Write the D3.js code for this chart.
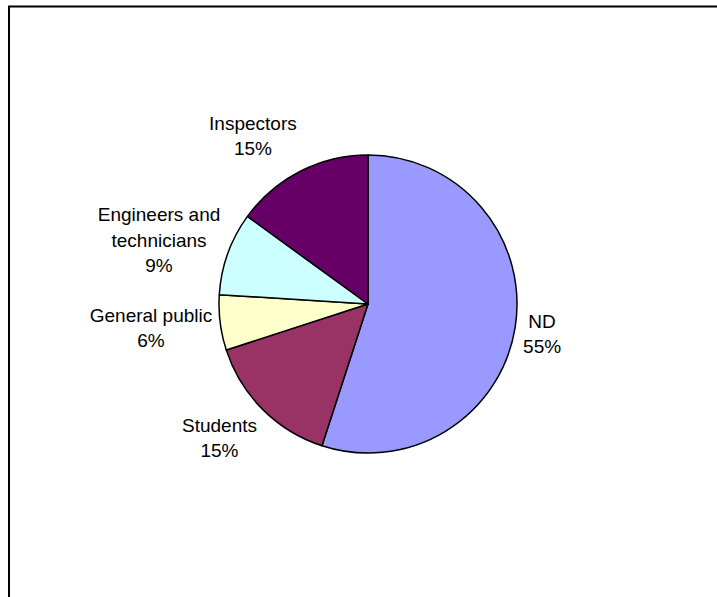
<!DOCTYPE html>
<html>
<head>
<meta charset="utf-8">
<script src="https://cdn.jsdelivr.net/npm/d3@7"></script>
<style>
  html, body { margin: 0; padding: 0; background: #fff; }
  svg { display: block; }
</style>
</head>
<body>
<svg id="chart" width="717" height="597"></svg>
<script>
const categories = ["ND", "Students", "General public", "Engineers and technicians", "Inspectors"];
const labelLines = [["ND"], ["Students"], ["General public"], ["Engineers and", "technicians"], ["Inspectors"]];
const values = [55, 15, 6, 9, 15];
const percentLabels = ["55%", "15%", "6%", "9%", "15%"];
const colors = ["#9999FF", "#993366", "#FFFFCC", "#CCFFFF", "#660066"];

const svg = d3.select("#chart");
const W = 717, H = 597;

// outer frame
svg.append("rect")
  .attr("x", 9).attr("y", 6.5)
  .attr("width", W + 20).attr("height", H + 20)
  .attr("fill", "#fff").attr("stroke", "#000").attr("stroke-width", 2);

const cx = 368, cy = 304, r = 149;
const pie = d3.pie().sort(null).value(d => d).startAngle(0).endAngle(2 * Math.PI);
const arcs = pie(values);
const arc = d3.arc().innerRadius(0).outerRadius(r);

const g = svg.append("g").attr("transform", `translate(${cx},${cy})`);
g.selectAll("path.slice")
  .data(arcs)
  .join("path")
  .attr("class", "slice")
  .attr("d", arc)
  .attr("fill", (d, i) => colors[i])
  .attr("stroke", "#000")
  .attr("stroke-width", 1.5)
  .attr("stroke-linejoin", "round");

const fontSize = 19, lineH = 25.5, capH = 13.6;
const pad = 8, vExtra = 32;

arcs.forEach((d, i) => {
  const a = (d.startAngle + d.endAngle) / 2;
  const s = Math.sin(a), c = -Math.cos(a);
  const lines = labelLines[i].concat([percentLabels[i]]);
  const t = g.append("text")
    .attr("font-family", "'Liberation Sans', Arial, sans-serif")
    .attr("font-size", fontSize)
    .attr("fill", "#000")
    .attr("text-anchor", "middle");
  lines.forEach(l => t.append("tspan").text(l));
  const w = d3.max(t.selectAll("tspan").nodes(), n => n.getComputedTextLength());
  const bx = s * (r + pad) + Math.sign(s) * w / 2;
  const by = c * (r + pad + vExtra);
  const n = lines.length;
  const base1 = by - ((n - 1) * lineH + capH) / 2 + capH;
  t.selectAll("tspan")
    .attr("x", bx)
    .attr("y", (_, j) => base1 + j * lineH);
});
</script>
</body>
</html>
